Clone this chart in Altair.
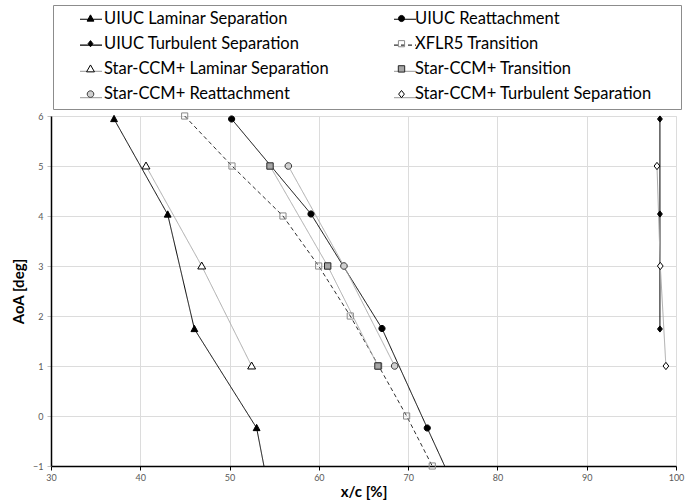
import altair as alt
import pandas as pd

# ---------------- data ----------------
series_names = [
    "UIUC Laminar Separation", "UIUC Reattachment",
    "UIUC Turbulent Separation", "XFLR5 Transition",
    "Star-CCM+ Laminar Separation", "Star-CCM+ Transition",
    "Star-CCM+ Reattachment", "Star-CCM+ Turbulent Separation",
]
series_keys = ["uiuc_ls", "uiuc_ra", "uiuc_ts", "xflr5_tr",
               "ccm_ls", "ccm_tr", "ccm_ra", "ccm_ts"]

uiuc_ls_aoa = [5.94, 4.03, 1.74, -0.24, -2.25]
uiuc_ls_x = [37.06, 43.07, 46.06, 53.03, 55.2]

uiuc_ra_aoa = [5.94, 4.04, 1.75, -0.24, -2.25]
uiuc_ra_x = [50.23, 59.12, 67.07, 72.14, 77.3]

uiuc_ts_aoa = [5.94, 4.04, 1.74]
uiuc_ts_x = [98.2, 98.2, 98.2]

xflr5_aoa = [6, 5, 4, 3, 2, 1, 0, -1]
xflr5_x = [44.97, 50.27, 55.98, 59.98, 63.52, 66.7, 69.83, 72.7]

ccm_ls_aoa = [5, 3, 1]
ccm_ls_x = [40.64, 46.88, 52.47]

ccm_tr_aoa = [5, 3, 1]
ccm_tr_x = [54.53, 60.99, 66.62]

ccm_ra_aoa = [5, 3, 1]
ccm_ra_x = [56.58, 62.81, 68.49]

ccm_ts_aoa = [5, 3, 1]
ccm_ts_x = [97.87, 98.24, 98.87]

series_x = [uiuc_ls_x, uiuc_ra_x, uiuc_ts_x, xflr5_x,
            ccm_ls_x, ccm_tr_x, ccm_ra_x, ccm_ts_x]
series_aoa = [uiuc_ls_aoa, uiuc_ra_aoa, uiuc_ts_aoa, xflr5_aoa,
              ccm_ls_aoa, ccm_tr_aoa, ccm_ra_aoa, ccm_ts_aoa]

x_ticks = [30, 40, 50, 60, 70, 80, 90, 100]
y_ticks = [-1, 0, 1, 2, 3, 4, 5, 6]

rows = []
for name, key, xs, ys in zip(series_names, series_keys, series_x, series_aoa):
    for i, (xv, yv) in enumerate(zip(xs, ys)):
        rows.append({"series": name, "key": key, "i": i, "x": xv, "aoa": yv})
df = pd.DataFrame(rows)

# ---------------- styles ----------------
line_colors = ["#000000", "#000000", "#000000", "#303030",
               "#ababab", "#ababab", "#ababab", "#ababab"]
line_dashes = [[1, 0], [1, 0], [1, 0], [4, 3], [1, 0], [1, 0], [1, 0], [1, 0]]

# marker paths (unit = 11 px at size 484)
marker_paths = [
    "M0,-0.33L0.31,0.24L-0.31,0.24Z",                                   # UIUC tri
    "M-0.28,0A0.28,0.28,0,1,1,0.28,0A0.28,0.28,0,1,1,-0.28,0Z",         # UIUC circle
    "M0,-0.28L0.22,0L0,0.28L-0.22,0Z",                                  # UIUC diamond
    "M-0.28,-0.28H0.28V0.28H-0.28Z",                                    # XFLR5 square
    "M0,-0.36L0.36,0.27L-0.36,0.27Z",                                   # CCM tri
    "M-0.29,-0.29H0.29V0.29H-0.29Z",                                    # CCM square
    "M-0.3,0A0.3,0.3,0,1,1,0.3,0A0.3,0.3,0,1,1,-0.3,0Z",                # CCM circle
    "M0,-0.33L0.26,0L0,0.33L-0.26,0Z",                                  # CCM diamond
]
marker_fill = ["#000000", "#000000", "#000000", "transparent",
               "#ffffff", "#a6a6a6", "#d0d0d0", "#ffffff"]
marker_stroke = ["#000000", "#000000", "#000000", "#8a8a8a",
                 "#000000", "#262626", "#3a3a3a", "#000000"]
marker_sw = [1, 1, 1, 1, 2, 2, 2, 2]

FONT = "Lato"

# legend is filled column by column: 4 rows x 2 columns
legend_pos = [0, 2, 4, 6, 1, 3, 5, 7]
names_legend = [series_names[k] for k in legend_pos]
keys_legend = [series_keys[k] for k in legend_pos]
lc_legend = [line_colors[k] for k in legend_pos]
ld_legend = [line_dashes[k] for k in legend_pos]
mp_legend = [marker_paths[k] for k in legend_pos]
mf_legend = [marker_fill[k] for k in legend_pos]
ms_legend = [marker_stroke[k] for k in legend_pos]
sw_legend = [marker_sw[k] for k in legend_pos]

col2_keys = [series_keys[k] for k in (1, 3, 5, 7)]
names_js = "[" + ",".join("'" + n + "'" for n in series_names) + "]"
keys_js = "[" + ",".join("'" + k + "'" for k in series_keys) + "]"
col2k_js = "[" + ",".join("'" + k + "'" for k in col2_keys) + "]"

common_legend = dict(
    orient="none", legendX=2, legendY=-111, columns=2,
    title=" ", titleOrient="left", titleFontSize=1, titlePadding=24,
    padding=2, rowPadding=5.2, columnPadding=60,
    labelFont=FONT, labelFontSize=16.5, labelColor="#000000",
    labelLimit=600, labelOffset=2, symbolSize=484,
)

# line legend: invisible labels (only used for layout), draws the frame;
# the right-column labels get extra hidden text to widen the frame
legend_lines = alt.Legend(
    **common_legend,
    symbolType="stroke", symbolStrokeWidth=1.2, labelOpacity=0,
    strokeColor="#8c8c8c",
    labelExpr=names_js + "[indexof(" + keys_js + ", datum.value)] + "
              "(indexof(" + col2k_js + ", datum.value) >= 0 ? 'nni' : '')",
)
legend_marks = alt.Legend(
    **common_legend,
    symbolStrokeWidth=1.8, symbolOpacity=1,
)

x_enc = alt.X("x:Q", title="x/c [%]",
              scale=alt.Scale(domain=[30, 100], nice=False, zero=False),
              axis=alt.Axis(values=x_ticks, grid=True, gridColor="#dcdcdc",
                            domainColor="#000000", domainWidth=1.5,
                            tickColor="#000000", tickSize=4,
                            labelFont=FONT, labelFontSize=9, labelColor="#595959",
                            labelPadding=3, labelFlush=False,
                            titleFont=FONT, titleFontSize=15, titleFontWeight="bold",
                            titleColor="#000000", titlePadding=2))
y_enc = alt.Y("aoa:Q", title="AoA [deg]",
              scale=alt.Scale(domain=[-1, 6], nice=False, zero=False),
              axis=alt.Axis(values=y_ticks, format="d", grid=True, gridColor="#dcdcdc",
                            domainColor="#000000", domainWidth=1.5,
                            tickColor="#bfbfbf", tickSize=4,
                            labelFont=FONT, labelFontSize=9, labelColor="#595959",
                            labelPadding=4,
                            titleFont=FONT, titleFontSize=15, titleFontWeight="bold",
                            titleColor="#000000", titlePadding=6))

lines = alt.Chart(df).mark_line(clip=True, strokeWidth=1).encode(
    x=x_enc, y=y_enc,
    color=alt.Color("key:N", scale=alt.Scale(domain=keys_legend, range=lc_legend),
                    legend=legend_lines),
    strokeDash=alt.StrokeDash("key:N", scale=alt.Scale(domain=keys_legend, range=ld_legend),
                              legend=legend_lines),
    order=alt.Order("i:Q"),
)

points = alt.Chart(df).transform_filter("datum.aoa >= -1.01").mark_point(
    size=484, opacity=1
).encode(
    x="x:Q", y="aoa:Q",
    shape=alt.Shape("series:N", scale=alt.Scale(domain=names_legend, range=mp_legend),
                    legend=legend_marks),
    fill=alt.Fill("series:N", scale=alt.Scale(domain=names_legend, range=mf_legend),
                  legend=legend_marks),
    stroke=alt.Stroke("series:N", scale=alt.Scale(domain=names_legend, range=ms_legend),
                      legend=legend_marks),
    strokeWidth=alt.StrokeWidth("series:O", scale=alt.Scale(domain=names_legend, range=sw_legend),
                                legend=None),
)

chart = alt.layer(lines, points).properties(
    width=625, height=350,
    autosize=alt.AutoSizeParams(type="none"),
    padding={"left": 51, "top": 116, "right": 9, "bottom": 36},
    background="#ffffff",
).configure_view(stroke=None).configure(font=FONT)

chart.save("out.html", embed_options={"renderer": "svg", "actions": False})
